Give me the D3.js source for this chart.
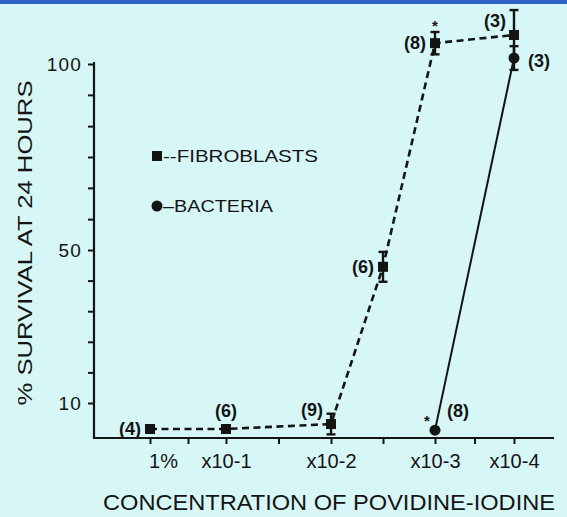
<!DOCTYPE html>
<html><head><meta charset="utf-8">
<script src="https://cdn.jsdelivr.net/npm/d3@7"></script>
<style>html,body{margin:0;padding:0;background:#d7f7f7;} svg{display:block}</style>
</head><body><svg id="c" width="567" height="517"></svg>
<script>
// ---- data ----
const xLevels = [0, 1, 2, 3, 4];
const xTickLabels = ["1%", "x10-1", "x10-2", "x10-3", "x10-4"];
const xMinorTicks = [0.5, 1.5, 2.5, 3.5];
const yTickValues = [10, 18, 26, 34, 42, 50, 58.3, 66.7, 75, 83.3, 91.7, 100];
const yLabeledTicks = [10, 50, 100];

const fibroX = [0, 1, 2, 2.5, 3, 4];
const fibroY = [3.2, 3.2, 4.5, 45.6, 105.6, 107.8];
const fibroErr = [0, 0, 2.7, 3.9, 3.0, 6.7];
const fibroN = ["(4)", "(6)", "(9)", "(6)", "(8)", "(3)"];
const fibroLabelPlace = ["left", "above", "upleft", "left", "left", "upleft"];
const fibroSig = [false, false, false, false, true, false];

const bactX = [3, 4];
const bactY = [2.9, 101.6];
const bactErr = [0, 3.2];
const bactN = ["(8)", "(3)"];
const bactLabelPlace = ["upright", "right"];
const bactSig = [true, false];

// ---- layout ----
const ink = "#141414";
const font = "'Liberation Sans', Arial, sans-serif";
const svg = d3.select("#c");
svg.append("rect").attr("width", 567).attr("height", 517).attr("fill", "#d7f7f7");
svg.append("rect").attr("width", 567).attr("height", 4).attr("fill", "#2f63c9");

const axisX = 94, axisY = 438;
const x = d3.scaleLinear().domain(xLevels).range([150, 226, 331, 435, 514]);
const y = d3.scaleLinear().domain([10, 50, 100]).range([403, 250, 64]);

// y axis
const gy = svg.append("g").attr("transform", `translate(${axisX},0)`)
  .call(d3.axisLeft(y).tickValues(yTickValues).tickSize(6).tickPadding(6)
    .tickFormat(d => yLabeledTicks.includes(d) ? String(d) : ""));
gy.select(".domain").remove();
gy.selectAll(".tick line").attr("stroke", ink).attr("stroke-width", 2);
gy.selectAll(".tick text").attr("fill", ink).attr("font-family", font)
  .attr("font-size", 19).attr("letter-spacing", 1.2);
svg.append("line").attr("x1", axisX).attr("x2", axisX).attr("y1", y(100) - 2).attr("y2", axisY + 1)
  .attr("stroke", ink).attr("stroke-width", 2.2);

// x axis
const gx = svg.append("g").attr("transform", `translate(0,${axisY})`)
  .call(d3.axisBottom(x).tickValues(xLevels.concat(xMinorTicks)).tickSize(6).tickPadding(10)
    .tickFormat(d => { const i = xLevels.indexOf(d); return i >= 0 ? xTickLabels[i] : ""; }));
gx.select(".domain").remove();
gx.selectAll(".tick line").attr("stroke", ink).attr("stroke-width", 2);
gx.selectAll(".tick text").attr("fill", ink).attr("font-family", font).attr("font-size", 20)
  .attr("dx", d => d === xLevels[0] ? 13 : 0);
svg.append("line").attr("x1", axisX - 1).attr("x2", 554).attr("y1", axisY).attr("y2", axisY)
  .attr("stroke", ink).attr("stroke-width", 2.2);

// axis titles
svg.append("text").attr("x", 103).attr("y", 510).attr("font-family", font).attr("font-size", 22)
  .attr("fill", ink).attr("textLength", 452).attr("lengthAdjust", "spacingAndGlyphs")
  .text("CONCENTRATION OF POVIDINE-IODINE");
svg.append("text").attr("transform", "translate(32,243) rotate(-90)").attr("text-anchor", "middle")
  .attr("font-family", font).attr("font-size", 21).attr("fill", ink)
  .attr("textLength", 325).attr("lengthAdjust", "spacingAndGlyphs")
  .text("% SURVIVAL AT 24 HOURS");

// series lines
const fibro = fibroX.map((v, i) => ({x: v, y: fibroY[i], e: fibroErr[i], n: fibroN[i], p: fibroLabelPlace[i], s: fibroSig[i]}));
const bact = bactX.map((v, i) => ({x: v, y: bactY[i], e: bactErr[i], n: bactN[i], p: bactLabelPlace[i], s: bactSig[i]}));
const line = d3.line().x(d => x(d.x)).y(d => y(d.y));
svg.append("path").datum(fibro).attr("d", line).attr("fill", "none").attr("stroke", ink)
  .attr("stroke-width", 2.6).attr("stroke-dasharray", "7,4.5");
svg.append("path").datum(bact).attr("d", line).attr("fill", "none").attr("stroke", ink)
  .attr("stroke-width", 2);

// error bars
function errBars(data) {
  const g = svg.append("g").attr("stroke", ink).attr("stroke-width", 2.4);
  data.filter(d => d.e > 0).forEach(d => {
    const cx = x(d.x), t = y(d.y + d.e), b = y(d.y - d.e);
    g.append("line").attr("x1", cx).attr("x2", cx).attr("y1", t).attr("y2", b);
    g.append("line").attr("x1", cx - 4.5).attr("x2", cx + 4.5).attr("y1", t).attr("y2", t);
    g.append("line").attr("x1", cx - 4.5).attr("x2", cx + 4.5).attr("y1", b).attr("y2", b);
  });
}
errBars(fibro); errBars(bact);

// markers
svg.append("g").selectAll("rect").data(fibro).join("rect")
  .attr("x", d => x(d.x) - 5).attr("y", d => y(d.y) - 5).attr("width", 10).attr("height", 10).attr("fill", ink);
svg.append("g").selectAll("circle").data(bact).join("circle")
  .attr("cx", d => x(d.x)).attr("cy", d => y(d.y)).attr("r", 5.5).attr("fill", ink);

// n labels
const place = {
  left:    {dx: -9, dy: 6, a: "end"},
  above:   {dx: 0, dy: -12, a: "middle"},
  upleft:  {dx: -8, dy: -8, a: "end"},
  upright: {dx: 12, dy: -13, a: "start"},
  right:   {dx: 14, dy: 9, a: "start"}
};
function nLabels(data) {
  svg.append("g").selectAll("text").data(data).join("text")
    .attr("x", d => x(d.x) + place[d.p].dx).attr("y", d => y(d.y) + place[d.p].dy)
    .attr("text-anchor", d => place[d.p].a)
    .attr("font-family", font).attr("font-weight", "bold").attr("font-size", 18).attr("fill", ink)
    .text(d => d.n);
}
nLabels(fibro); nLabels(bact);
// significance asterisks
svg.append("g").selectAll("text").data(fibro.filter(d => d.s)).join("text")
  .attr("x", d => x(d.x)).attr("y", d => y(d.y + d.e) - 1).attr("text-anchor", "middle")
  .attr("font-family", font).attr("font-weight", "bold").attr("font-size", 15).attr("fill", ink).text("*");
svg.append("g").selectAll("text").data(bact.filter(d => d.s)).join("text")
  .attr("x", d => x(d.x) - 8).attr("y", d => y(d.y) - 4).attr("text-anchor", "middle")
  .attr("font-family", font).attr("font-weight", "bold").attr("font-size", 15).attr("fill", ink).text("*");

// legend
svg.append("rect").attr("x", 152).attr("y", 151).attr("width", 10).attr("height", 10).attr("fill", ink);
svg.append("text").attr("x", 163).attr("y", 162).attr("font-family", font).attr("font-size", 17)
  .attr("fill", ink).attr("textLength", 155).attr("lengthAdjust", "spacingAndGlyphs").text("--FIBROBLASTS");
svg.append("circle").attr("cx", 157).attr("cy", 206).attr("r", 5.5).attr("fill", ink);
svg.append("text").attr("x", 163).attr("y", 212).attr("font-family", font).attr("font-size", 17)
  .attr("fill", ink).attr("textLength", 110).attr("lengthAdjust", "spacingAndGlyphs").text("\u2013BACTERIA");
</script></body></html>
